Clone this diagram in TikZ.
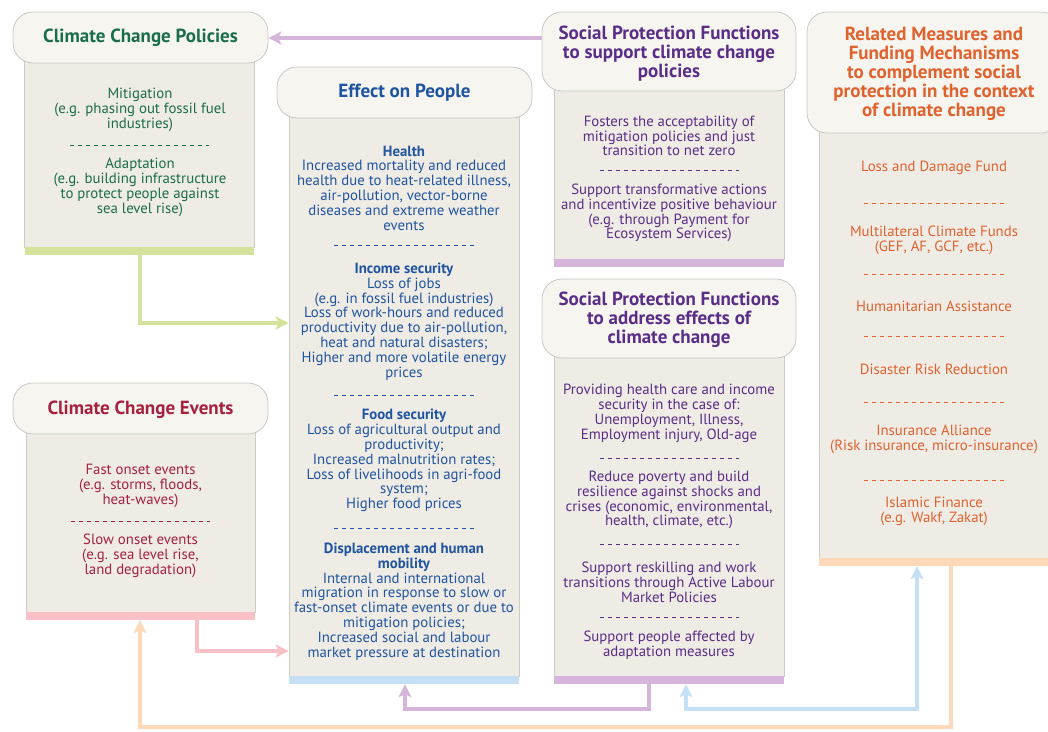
\documentclass[tikz,border=0pt]{standalone}
\usepackage{fontspec}
\setmainfont{PT Sans}
\usetikzlibrary{arrows.meta}

\definecolor{hdrfill}{HTML}{F6F5F0}
\definecolor{hdrline}{HTML}{C8C8C4}
\definecolor{bodyfill}{HTML}{EFEBE5}
\definecolor{bodyline}{HTML}{CDCBC6}
\definecolor{cgreen}{HTML}{1A6E4B}
\definecolor{cblue}{HTML}{1F55A0}
\definecolor{cred}{HTML}{A5213F}
\definecolor{cpurple}{HTML}{5A2D87}
\definecolor{corange}{HTML}{E0622E}
\definecolor{bgreen}{HTML}{D3E39B}
\definecolor{bblue}{HTML}{C5E0F4}
\definecolor{bpurple}{HTML}{D5B6DA}
\definecolor{bpink}{HTML}{F9C0C7}
\definecolor{borange}{HTML}{FDD9BA}

\tikzset{
  hdr/.style={draw=hdrline, fill=hdrfill, rounded corners=20pt, line width=0.8pt,
    inner sep=0pt, minimum width=254pt},
  panel/.style={draw=bodyline, fill=bodyfill, line width=0.8pt, inner sep=0pt,
    minimum width=230pt},
  bar/.style={inner sep=0pt, minimum height=8pt, minimum width=230pt},
  txt/.style={align=center, inner sep=0pt, font=\fontsize{14.8}{14.8}\selectfont},
  ttl/.style={align=center, inner sep=0pt, font=\fontsize{19}{19}\selectfont\bfseries},
  sep/.style={dash pattern=on 4pt off 4pt, line width=0.9pt},
  conn/.style={line width=4pt, -{Stealth[length=13pt,width=13pt,inset=3pt]}},
  bothconn/.style={line width=4pt, {Stealth[length=13pt,width=13pt,inset=3pt]}-{Stealth[length=13pt,width=13pt,inset=3pt]}},
}

\begin{document}
\begin{tikzpicture}[x=1pt,y=-1pt]
\useasboundingbox (0,0) rectangle (1048,731);

% ---------------- Climate Change Policies ----------------
\node[panel, minimum height=197pt] (polbody) at (139.5,148.5) {};
\node[bar, fill=bgreen, minimum width=229pt] (polbar) at (139.5,251) {};
\node[hdr, minimum width=255pt, minimum height=51pt] (polhdr) at (140.5,37.5) {};
\node[ttl, text=cgreen] (poltitle) at (140.5,38) {Climate Change Policies};
\node[txt, text=cgreen] (polmit) at (140,110) {Mitigation\\(e.g. phasing out fossil fuel\\industries)};
\draw[sep, cgreen] (70,145) -- (209,145);
\node[txt, text=cgreen] (poladapt) at (140,187.5) {Adaptation\\(e.g. building infrastructure\\to protect people against\\sea level rise)};

% ---------------- Climate Change Events ----------------
\node[panel, minimum height=192pt, minimum width=229pt] (evbody) at (140.5,516) {};
\node[bar, fill=bpink, minimum width=229pt] (evbar) at (140.5,616) {};
\node[hdr, minimum width=255pt, minimum height=51pt] (evhdr) at (140.5,408.5) {};
\node[ttl, text=cred] (evtitle) at (140.5,410) {Climate Change Events};
\node[txt, text=cred] (evfast) at (140.5,486) {Fast onset events\\(e.g. storms, floods,\\heat-waves)};
\draw[sep, cred] (71,521) -- (210,521);
\node[txt, text=cred] (evslow) at (140.5,556) {Slow onset events\\(e.g. sea level rise,\\land degradation)};

% ---------------- Effect on People ----------------
\node[panel, minimum height=571pt] (effbody) at (404,390.5) {};
\node[bar, fill=bblue] (effbar) at (404,680) {};
\node[hdr, minimum width=255pt, minimum height=51pt] (effhdr) at (404.5,92.5) {};
\node[ttl, text=cblue] (efftitle) at (404.5,93) {Effect on People};
\node[txt, text=cblue] (effhealth) at (404,188) {\textbf{Health}\\Increased mortality and reduced\\health due to heat-related illness,\\air-pollution, vector-borne\\diseases and extreme weather\\events};
\draw[sep, cblue] (334,245) -- (474,245);
\node[txt, text=cblue] (effincome) at (404,321.5) {\textbf{Income security}\\Loss of jobs\\(e.g. in fossil fuel industries)\\Loss of work-hours and reduced\\productivity due to air-pollution,\\heat and natural disasters;\\Higher and more volatile energy\\prices};
\draw[sep, cblue] (334,395) -- (474,395);
\node[txt, text=cblue] (efffood) at (404,460.5) {\textbf{Food security}\\Loss of agricultural output and\\productivity;\\Increased malnutrition rates;\\Loss of livelihoods in agri-food\\system;\\Higher food prices};
\draw[sep, cblue] (334,528) -- (474,528);
\node[txt, text=cblue] (effmove) at (404,601.5) {\textbf{Displacement and human}\\\textbf{mobility}\\Internal and international\\migration in response to slow or\\fast-onset climate events or due to\\mitigation policies;\\Increased social and labour\\market pressure at destination};

% ---------------- Social Protection: support policies ----------------
\node[panel, minimum height=179pt] (sp1body) at (669,169.5) {};
\node[bar, fill=bpurple] (sp1bar) at (669,263) {};
\node[hdr, minimum height=79pt] (sp1hdr) at (669,51.5) {};
\node[ttl, text=cpurple] (sp1title) at (669,54) {Social Protection Functions\\to support climate change\\policies};
\node[txt, text=cpurple] (sp1accept) at (669,136) {Fosters the acceptability of\\mitigation policies and just\\transition to net zero};
\draw[sep, cpurple] (600,170) -- (739,170);
\node[txt, text=cpurple] (sp1transf) at (669,213) {Support transformative actions\\and incentivize positive behaviour\\(e.g. through Payment for\\Ecosystem Services)};

% ---------------- Social Protection: address effects ----------------
\node[panel, minimum height=331pt] (sp2body) at (669,510.5) {};
\node[bar, fill=bpurple] (sp2bar) at (669,680) {};
\node[hdr, minimum height=79pt] (sp2hdr) at (669,318.5) {};
\node[ttl, text=cpurple] (sp2title) at (669,320) {Social Protection Functions\\to address effects of\\climate change};
\node[txt, text=cpurple] (sp2care) at (669,413.5) {Providing health care and income\\security in the case of:\\Unemployment, Illness,\\Employment injury, Old-age};
\draw[sep, cpurple] (600,458) -- (739,458);
\node[txt, text=cpurple] (sp2poverty) at (669,500) {Reduce poverty and build\\resilience against shocks and\\crises (economic, environmental,\\health, climate, etc.)};
\draw[sep, cpurple] (600,544) -- (739,544);
\node[txt, text=cpurple] (sp2skill) at (669,582.5) {Support reskilling and work\\transitions through Active Labour\\Market Policies};
\draw[sep, cpurple] (600,617) -- (739,617);
\node[txt, text=cpurple] (sp2adapt) at (669,645.5) {Support people affected by\\adaptation measures};

% ---------------- Related measures and funding ----------------
\node[panel, minimum height=438pt] (relbody) at (934,339) {};
\node[bar, fill=borange] (relbar) at (934,562) {};
\node[hdr, minimum height=121pt] (relhdr) at (934,72.5) {};
\node[ttl, text=corange] (reltitle) at (934,73.5) {Related Measures and\\Funding Mechanisms\\to complement social\\protection in the context\\of climate change};
\node[txt, text=corange] (relloss) at (934,168) {Loss and Damage Fund};
\draw[sep, corange] (864,203) -- (1004,203);
\node[txt, text=corange] (relmulti) at (934,240) {Multilateral Climate Funds\\(GEF, AF, GCF, etc.)};
\draw[sep, corange] (864,274) -- (1004,274);
\node[txt, text=corange] (relhuman) at (934,306) {Humanitarian Assistance};
\draw[sep, corange] (864,336) -- (1004,336);
\node[txt, text=corange] (reldrr) at (934,369) {Disaster Risk Reduction};
\draw[sep, corange] (864,402) -- (1004,402);
\node[txt, text=corange] (relins) at (934,439.5) {Insurance Alliance\\(Risk insurance, micro-insurance)};
\draw[sep, corange] (864,480) -- (1004,480);
\node[txt, text=corange] (relislam) at (934,511) {Islamic Finance\\(e.g. Wakf, Zakat)};

% ---------------- Connectors ----------------
\coordinate (orangeturn) at (140,727);
\coordinate (purpleturn) at (405,709);
\coordinate (blueturn) at (686,709);

\draw[conn, bpurple] (sp1hdr.west |- 0,38) -- (polhdr.east |- 0,38);
\draw[conn, bgreen] (polbar.south -| 140,0) |- (effbody.west |- 0,323);
\draw[conn, bpink] (evbar.south -| 197,0) |- (effbody.west |- 0,651);
\draw[conn, bpurple] (sp2bar.south -| 649,0) |- (purpleturn) -- (effbar.south -| purpleturn);
\draw[bothconn, bblue] (sp2bar.south -| blueturn) -- (blueturn) -| (relbar.south -| 917,0);
\draw[conn, borange] (relbar.south -| 951,0) |- (orangeturn) -- (evbar.south -| orangeturn);
\end{tikzpicture}
\end{document}
